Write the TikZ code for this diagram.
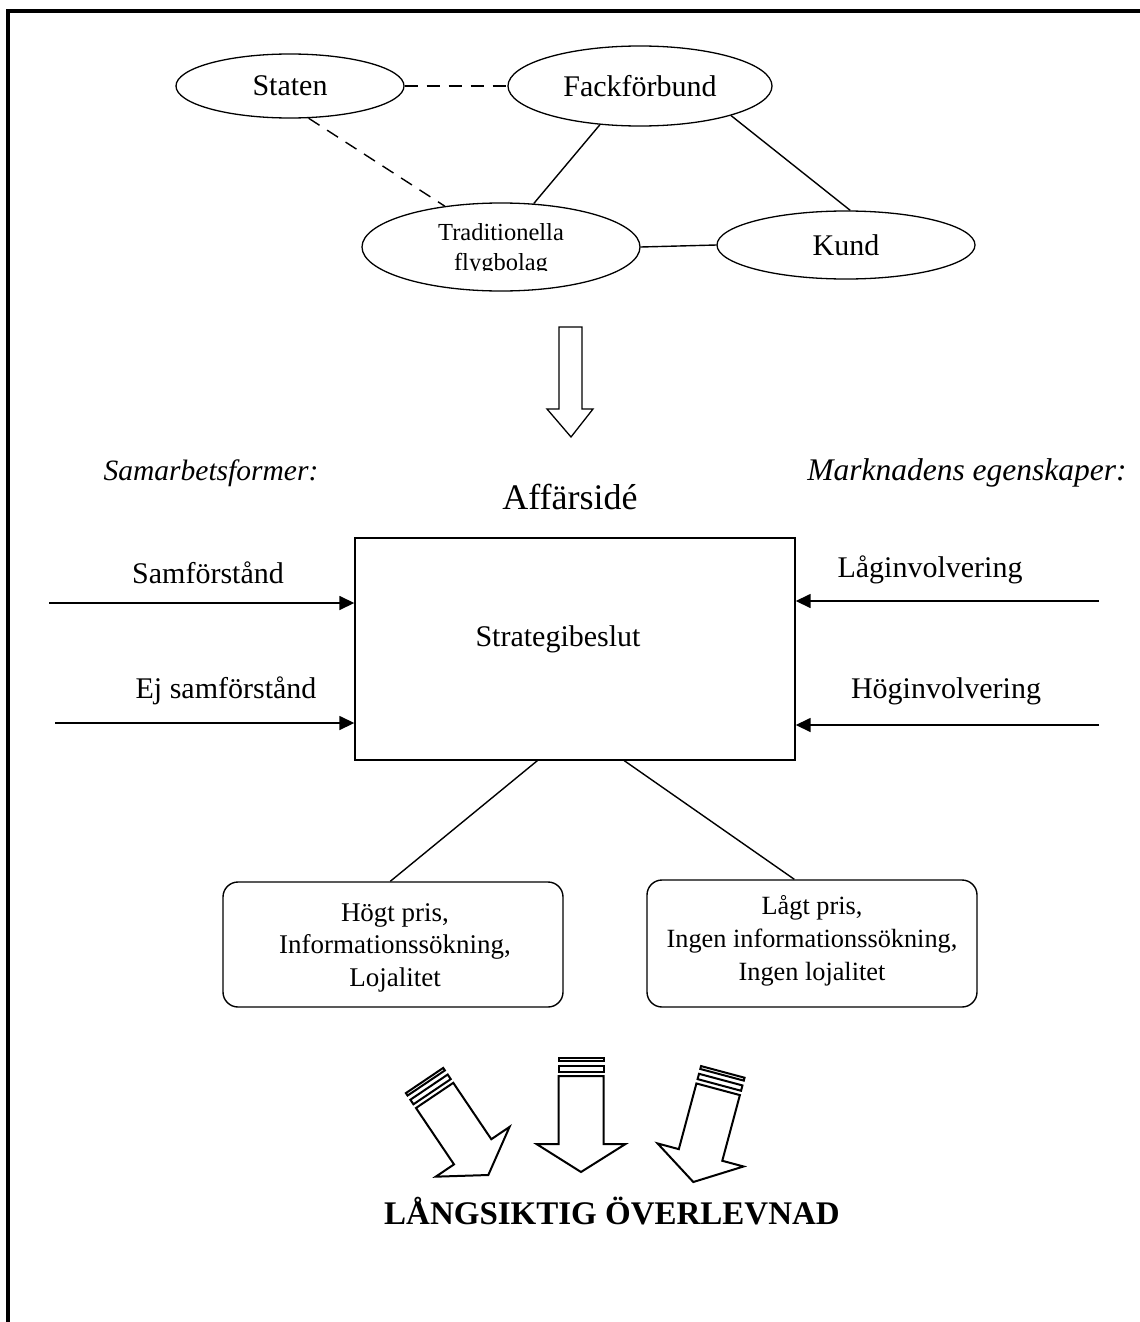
\documentclass[tikz,border=0pt]{standalone}
\usepackage{fontspec}
\setmainfont{Liberation Serif}
\usetikzlibrary{shapes.geometric,arrows.meta}

% hollow striped block arrow, tip at the local origin, pointing down
\newcommand\stripedarrow{%
  \draw[fat] (-22.5,-96) -- (-22.5,-28) -- (-44.5,-28) -- (0,0) -- (44.5,-28) -- (22.5,-28) -- (22.5,-96) -- cycle;
  \draw[fat] (-22.5,-100.5) rectangle (22.5,-106);
  \draw[fat] (-22.5,-111) rectangle (22.5,-114);}

\begin{document}
\begin{tikzpicture}[x=1pt,y=-1pt,line join=miter,
  actor/.style={draw,ellipse,line width=1.3pt,inner sep=0pt,font=\fontsize{30}{36}\selectfont},
  conn/.style={line width=1.4pt},
  dashlink/.style={conn,dash pattern=on 13pt off 9pt},
  lbl/.style={inner sep=0pt,anchor=base,font=\fontsize{30}{36}\selectfont},
  ilbl/.style={lbl,font=\fontsize{29.5}{36}\itshape},
  inarrow/.style={line width=1.6pt,-{Triangle[length=15pt,width=14pt]}},
  outcome/.style={draw,line width=1.4pt,rounded corners=15pt,align=center,inner sep=0pt,
    font=\fontsize{27}{33}\selectfont},
  fat/.style={line width=2pt}]
\useasboundingbox (0,0) rectangle (1140,1322);
\fill[white] (0,0) rectangle (1140,1322);

% frame
\draw[line width=3.5pt] (8,1322) -- (8,11) -- (1140,11);

% actors
\node[actor,minimum width=228pt,minimum height=64pt] (s) at (290,86) {Staten};
\node[actor,minimum width=264pt,minimum height=80pt] (f) at (640,86) {Fackförbund};
\node[actor,minimum width=278pt,minimum height=88pt] (t) at (501,247) {};
\node[actor,minimum width=258pt,minimum height=68pt] (k) at (846,245) {Kund};
\node[inner sep=0pt,font=\fontsize{24.5}{30}\selectfont] (t1) at (501,232) {Traditionella};
\begin{scope}
  \clip (380,240) rectangle (620,270.5);
  \node[inner sep=0pt,anchor=base,font=\fontsize{24.5}{30}\selectfont] (t2) at (501,270) {flygbolag};
\end{scope}

\draw[dashlink] (s.east) -- (f.west);
\draw[dashlink] (s.-60) -- (t.144);
\draw[conn] (f.-136) -- (t.53);
\draw[conn] (f.-18) -- (k.83);
\draw[conn] (t.east) -- (k.west);

% transition arrow
\draw[line width=1.3pt] (559,327) -- (582,327) -- (582,409) -- (593,409) -- (571,437)
  -- (547,409) -- (559,409) -- cycle;

% headings
\node[ilbl] (hl) at (211,480) {Samarbetsformer:};
\node[ilbl,font=\fontsize{31.5}{36}\itshape] (hr) at (967,480) {Marknadens egenskaper:};
\node[lbl,font=\fontsize{36}{42}\selectfont] (ai) at (570,509) {Affärsidé};

% decision box
\node[draw,line width=1.4pt,minimum width=440pt,minimum height=222pt,inner sep=0pt] (sb) at (575,649) {};
\node[lbl] (sbt) at (558,646) {Strategibeslut};

% inputs
\coordinate (a1) at (49,603);
\coordinate (a2) at (55,723);
\coordinate (a3) at (1099,601);
\coordinate (a4) at (1099,725);
\draw[inarrow] (a1) -- (a1 -| sb.west);
\draw[inarrow] (a2) -- (a2 -| sb.west);
\draw[inarrow] (a3) -- (a3 -| sb.east);
\draw[inarrow] (a4) -- (a4 -| sb.east);
\node[lbl] (l1) at (208,583) {Samförstånd};
\node[lbl] (l2) at (226,698) {Ej samförstånd};
\node[lbl] (l3) at (930,577) {Låginvolvering};
\node[lbl] (l4) at (946,698) {Höginvolvering};

% outcomes
\node[outcome,minimum width=340pt,minimum height=125pt] (hp) at (393,944.5) {};
\node[align=center,inner sep=0pt,font=\fontsize{27}{32.5}\selectfont] (hpt) at (395,947.5)
  {Högt pris,\\Informationssökning,\\Lojalitet};
\node[outcome,minimum width=330pt,minimum height=127pt] (lp) at (812,943.5) {};
\node[align=center,inner sep=0pt,font=\fontsize{26.3}{33}\selectfont] (lpt) at (812,940.5)
  {Lågt pris,\\Ingen informationssökning,\\Ingen lojalitet};
\draw[conn] ([xshift=183pt]sb.south west) -- ([xshift=168pt]hp.north west);
\draw[conn] ([xshift=270pt]sb.south west) -- ([xshift=148pt]lp.north west);

% converging arrows
\begin{scope}[shift={(488.3,1175)},rotate=34]\stripedarrow\end{scope}
\begin{scope}[shift={(581,1172)}]\stripedarrow\end{scope}
\begin{scope}[shift={(693.3,1182)},rotate=-15]\stripedarrow\end{scope}

\node[lbl,font=\fontsize{33}{40}\bfseries] (res) at (612,1224) {LÅNGSIKTIG ÖVERLEVNAD};
\end{tikzpicture}
\end{document}
